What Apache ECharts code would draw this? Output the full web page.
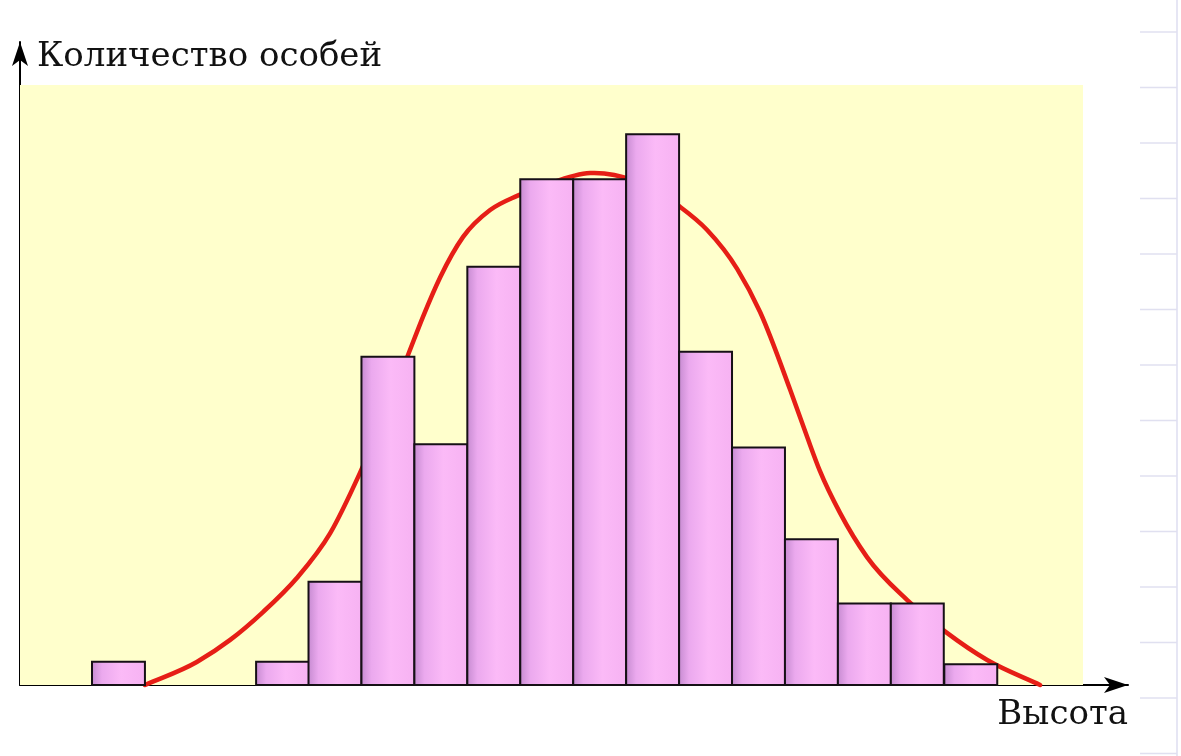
<!DOCTYPE html>
<html>
<head>
<meta charset="utf-8">
<script src="https://cdn.jsdelivr.net/npm/echarts@6/dist/echarts.min.js"></script>
<style>
  html, body { margin: 0; padding: 0; background: #ffffff; }
  #chart { width: 1181px; height: 756px; }
</style>
</head>
<body>
<div id="chart"></div>
<script>
// Histogram bins: start of each bin (height units), width 1
const binStarts = [1.36, 4.46, 5.45, 6.45, 7.45, 8.45, 9.45, 10.45, 11.45, 12.45, 13.45, 14.45, 15.45, 16.45, 17.46];
const binWidth = 1;
const binCounts = [0.97, 0.97, 4.3, 13.68, 10.03, 17.43, 21.07, 21.07, 22.95, 13.88, 9.9, 6.07, 3.4, 3.4, 0.86];

// Fitted (normal-like) curve
const curveX = [2.36, 3.34, 3.97, 4.59, 5.23, 5.86, 6.42, 7.33, 7.61, 7.94, 8.37, 8.88, 9.39, 9.92, 10.77, 11.62, 12.47, 12.98, 13.55, 13.98, 14.55, 14.87, 15.11, 15.49, 16.0, 16.76, 17.51, 18.27, 19.27];
const curveY = [0, 0.96, 1.88, 3.04, 4.46, 6.33, 8.83, 13.75, 15.33, 17.0, 18.67, 19.79, 20.38, 20.83, 21.33, 21.0, 19.92, 18.96, 17.33, 15.54, 12.29, 10.33, 8.92, 7.17, 5.33, 3.54, 2.17, 1.04, 0];

const xName = 'Высота';
const yName = 'Количество особей';
const xMax = 20.93;
const yMax = 26.79;
const plotAreaEnd = [20.08, 25.0];

const histData = binStarts.map((s, i) => [s, s + binWidth, binCounts[i]]);
const curveData = curveX.map((x, i) => [x, curveY[i]]);

const chart = echarts.init(document.getElementById('chart'));

const barFill = new echarts.graphic.LinearGradient(0, 0, 1, 0, [
  { offset: 0, color: '#c489cf' },
  { offset: 0.2, color: '#eba9ee' },
  { offset: 0.55, color: '#fbbaf7' },
  { offset: 1, color: '#f6b2f2' }
]);

const fontFam = '"DejaVu Serif", "Liberation Serif", serif';

// faint notebook lines at the right edge (decoration)
const deco = [{
  type: 'line', silent: true,
  shape: { x1: 1177, y1: 0, x2: 1177, y2: 756 },
  style: { stroke: '#dedef0', lineWidth: 1.5 }
}];
for (let k = 0; k < 14; k++) {
  const y = 32 + k * 55.5;
  deco.push({
    type: 'line', silent: true,
    shape: { x1: 1140, y1: y, x2: 1177, y2: y },
    style: { stroke: '#e0e0f0', lineWidth: 1.5 }
  });
}

// smooth curve through the data points (cubic Hermite, drawn through the axes' scales)
function curvePath(api) {
  const P = curveData.map(d => api.coord(d));
  const n = P.length;
  const m = new Array(n);
  for (let i = 0; i < n; i++) {
    if (i === 0) { m[i] = (P[1][1] - P[0][1]) / (P[1][0] - P[0][0]); continue; }
    if (i === n - 1) { m[i] = (P[i][1] - P[i - 1][1]) / (P[i][0] - P[i - 1][0]); continue; }
    const h0 = P[i][0] - P[i - 1][0], h1 = P[i + 1][0] - P[i][0];
    const s0 = (P[i][1] - P[i - 1][1]) / h0, s1 = (P[i + 1][1] - P[i][1]) / h1;
    m[i] = (s0 * h1 + s1 * h0) / (h0 + h1);
  }
  let d = 'M' + P[0][0] + ',' + P[0][1];
  for (let i = 0; i < n - 1; i++) {
    const h = P[i + 1][0] - P[i][0];
    const c1x = P[i][0] + h / 3, c1y = P[i][1] + m[i] * h / 3;
    const c2x = P[i + 1][0] - h / 3, c2y = P[i + 1][1] - m[i + 1] * h / 3;
    d += ' C' + c1x + ',' + c1y + ' ' + c2x + ',' + c2y + ' ' + P[i + 1][0] + ',' + P[i + 1][1];
  }
  return d;
}

chart.setOption({
  animation: false,
  backgroundColor: '#ffffff',
  grid: { left: 20, right: 53, top: 42, bottom: 71 },
  xAxis: {
    type: 'value', min: 0, max: xMax,
    name: xName,
    nameLocation: 'end',
    nameGap: 0,
    nameTextStyle: {
      fontFamily: fontFam, fontSize: 34, color: '#111',
      align: 'right', verticalAlign: 'top', padding: [13, 0, 0, 0]
    },
    axisLine: { show: true, lineStyle: { color: '#000', width: 2 }, symbol: ['none', 'arrow'], symbolSize: [12, 24] },
    axisTick: { show: false }, axisLabel: { show: false }, splitLine: { show: false }
  },
  yAxis: {
    type: 'value', min: 0, max: yMax,
    name: yName,
    nameLocation: 'end',
    nameGap: -15,
    nameTextStyle: {
      fontFamily: fontFam, fontSize: 34, color: '#111',
      align: 'left', verticalAlign: 'middle', padding: [0, 0, 0, 17]
    },
    axisLine: { show: true, lineStyle: { color: '#000', width: 2 }, symbol: ['none', 'arrow'], symbolSize: [12, 24] },
    axisTick: { show: false }, axisLabel: { show: false }, splitLine: { show: false }
  },
  graphic: deco,
  series: [
    {
      type: 'custom',
      name: 'curve',
      z: 2,
      data: curveData,
      markArea: {
        silent: true,
        itemStyle: { color: '#ffffcc' },
        data: [[{ xAxis: 0, yAxis: 0 }, { xAxis: plotAreaEnd[0], yAxis: plotAreaEnd[1] }]]
      },
      renderItem: function (params, api) {
        if (params.dataIndex !== 0) return null;
        return {
          type: 'path',
          shape: { pathData: curvePath(api) },
          style: { fill: null, stroke: '#e61e16', lineWidth: 4.5, lineCap: 'round', lineJoin: 'round' }
        };
      }
    },
    {
      type: 'custom',
      z: 3,
      data: histData,
      renderItem: function (params, api) {
        const s = api.value(0), e = api.value(1), v = api.value(2);
        const p0 = api.coord([s, v]);
        const p1 = api.coord([e, 0]);
        return {
          type: 'rect',
          shape: { x: p0[0], y: p0[1], width: p1[0] - p0[0], height: p1[1] - p0[1] },
          style: { fill: barFill, stroke: '#161016', lineWidth: 2 }
        };
      }
    }
  ]
});
</script>
</body>
</html>
